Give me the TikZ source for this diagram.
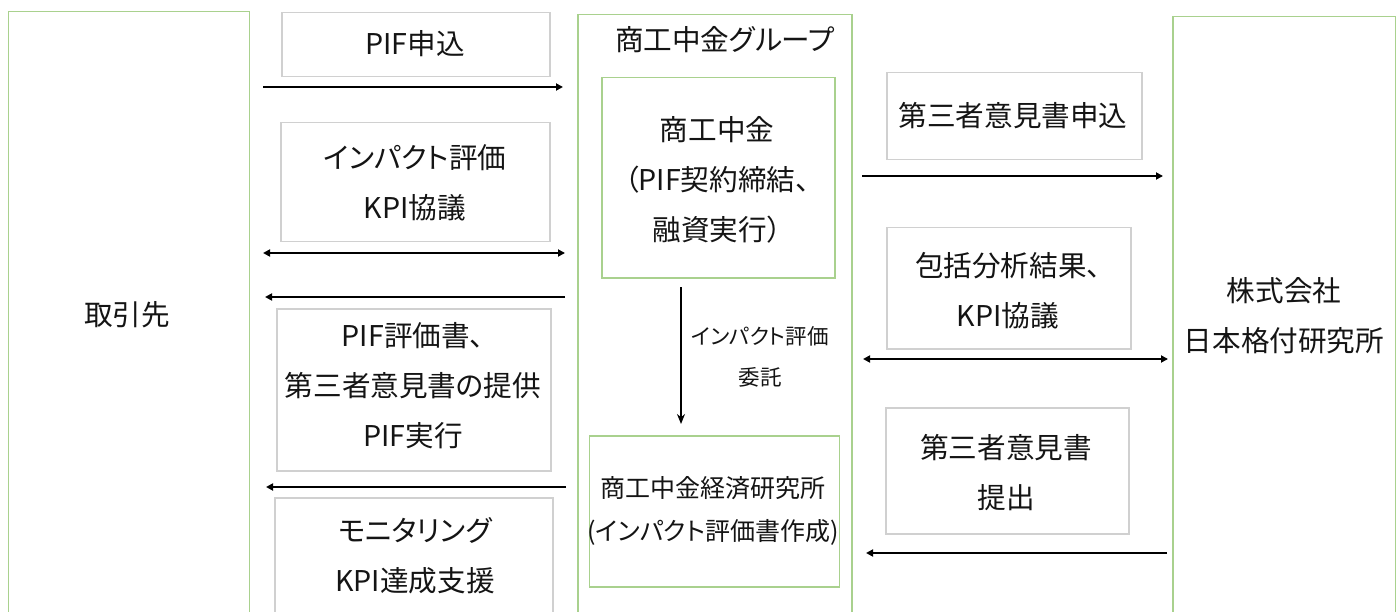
\documentclass[tikz,border=0pt]{standalone}
\usepackage{fontspec}
\setmainfont{Noto Sans CJK JP}[RawFeature=+palt]
\usetikzlibrary{arrows.meta}
\definecolor{grn}{HTML}{A9D18E}
\definecolor{gry}{HTML}{D0D0D0}
\definecolor{txt}{HTML}{141414}
\tikzset{
  gbox/.style={draw=grn, line width=1.5pt, anchor=north west, inner sep=0pt},
  pbox/.style={draw=gry, line width=1.5pt, anchor=north west, inner sep=0pt},
  big/.style={font=\fontsize{28.6}{50}\selectfont, text=txt, align=center, inner sep=0pt},
  mid/.style={font=\fontsize{25}{43}\selectfont, text=txt, align=center, inner sep=0pt},
  small/.style={font=\fontsize{21.5}{41}\selectfont, text=txt, align=center, inner sep=0pt},
  arr/.style={line width=2pt, -{Triangle[length=7pt,width=7pt]}},
  darr/.style={line width=2pt, {Triangle[length=7pt,width=7pt]}-{Triangle[length=7pt,width=7pt]}},
  varr/.style={line width=1.5pt, -{Stealth[length=10pt,width=8pt]}}
}
\begin{document}
\begin{tikzpicture}[x=1pt,y=-1pt]
\useasboundingbox (0,0) rectangle (1396,612);
\clip (0,0) rectangle (1396,612);
% big boxes
\node[gbox, minimum width=241pt, minimum height=620pt] (client) at (7.6,11) {};
\node[gbox, minimum width=274pt, minimum height=620pt] (group) at (577,14) {};
\node[gbox, minimum width=223pt, minimum height=620pt] (jcr) at (1172,16) {};
\node[gbox, minimum width=233pt, minimum height=200pt] (shoko) at (601,77) {};
\node[gbox, minimum width=250pt, minimum height=151pt] (keizai) at (588.5,435) {};
% grey label boxes
\node[pbox, minimum width=268pt, minimum height=64pt] (g1) at (281,12) {};
\node[pbox, minimum width=269pt, minimum height=119pt] (g2) at (280,122) {};
\node[pbox, minimum width=274pt, minimum height=162pt] (g3) at (276,308) {};
\node[pbox, minimum width=278pt, minimum height=130pt] (g4) at (274,497) {};
\node[pbox, minimum width=255pt, minimum height=87pt] (g5) at (886,72) {};
\node[pbox, minimum width=244pt, minimum height=121pt] (g6) at (886,227) {};
\node[pbox, minimum width=243pt, minimum height=126pt] (g7) at (885,407) {};
% texts
\node[big] (tclient) at (127,315) {取引先};
\node[big] (tjcr) at (1284,316) {株式会社\\日本格付研究所};
\node[big] (tgroup) at (725,40) {商工中金グループ};
\node[big] (tshoko) at (717,180) {商工中金\\（PIF契約締結、\\融資実行）};
\node[mid] (tkeizai) at (713,511) {商工中金経済研究所\\(インパクト評価書作成)};
\node[big] (t1) at (415,44) {PIF申込};
\node[big] (t2) at (415,183) {インパクト評価\\KPI協議};
\node[big] (t3) at (413,386) {PIF評価書、\\第三者意見書の提供\\PIF実行};
\node[big] (t4) at (415,556) {モニタリング\\KPI達成支援};
\node[big] (t5) at (1013,116) {第三者意見書申込};
\node[big] (t6) at (1008,291) {包括分析結果、\\KPI協議};
\node[big] (t7) at (1006,473) {第三者意見書\\提出};
\node[small] (tdel) at (760,357) {インパクト評価\\委託};
% connector end points
\coordinate (a1s) at (263,87);   \coordinate (a1e) at (563,87);
\coordinate (a2s) at (263,253);  \coordinate (a2e) at (565,253);
\coordinate (a3s) at (565,297);  \coordinate (a3e) at (265,297);
\coordinate (a4s) at (566,487);  \coordinate (a4e) at (266,487);
\coordinate (a5s) at (862,176);  \coordinate (a5e) at (1163,176);
\coordinate (a6s) at (863,359);  \coordinate (a6e) at (1168,359);
\coordinate (a7s) at (1167,553); \coordinate (a7e) at (866,553);
\coordinate (a8s) at (681,287);  \coordinate (a8e) at (681,424);
\draw[arr] (a1s) -- (a1e);
\draw[darr] (a2s) -- (a2e);
\draw[arr] (a3s) -- (a3e);
\draw[arr] (a4s) -- (a4e);
\draw[arr] (a5s) -- (a5e);
\draw[darr] (a6s) -- (a6e);
\draw[arr] (a7s) -- (a7e);
\draw[varr] (a8s) -- (a8e);
\end{tikzpicture}
\end{document}
